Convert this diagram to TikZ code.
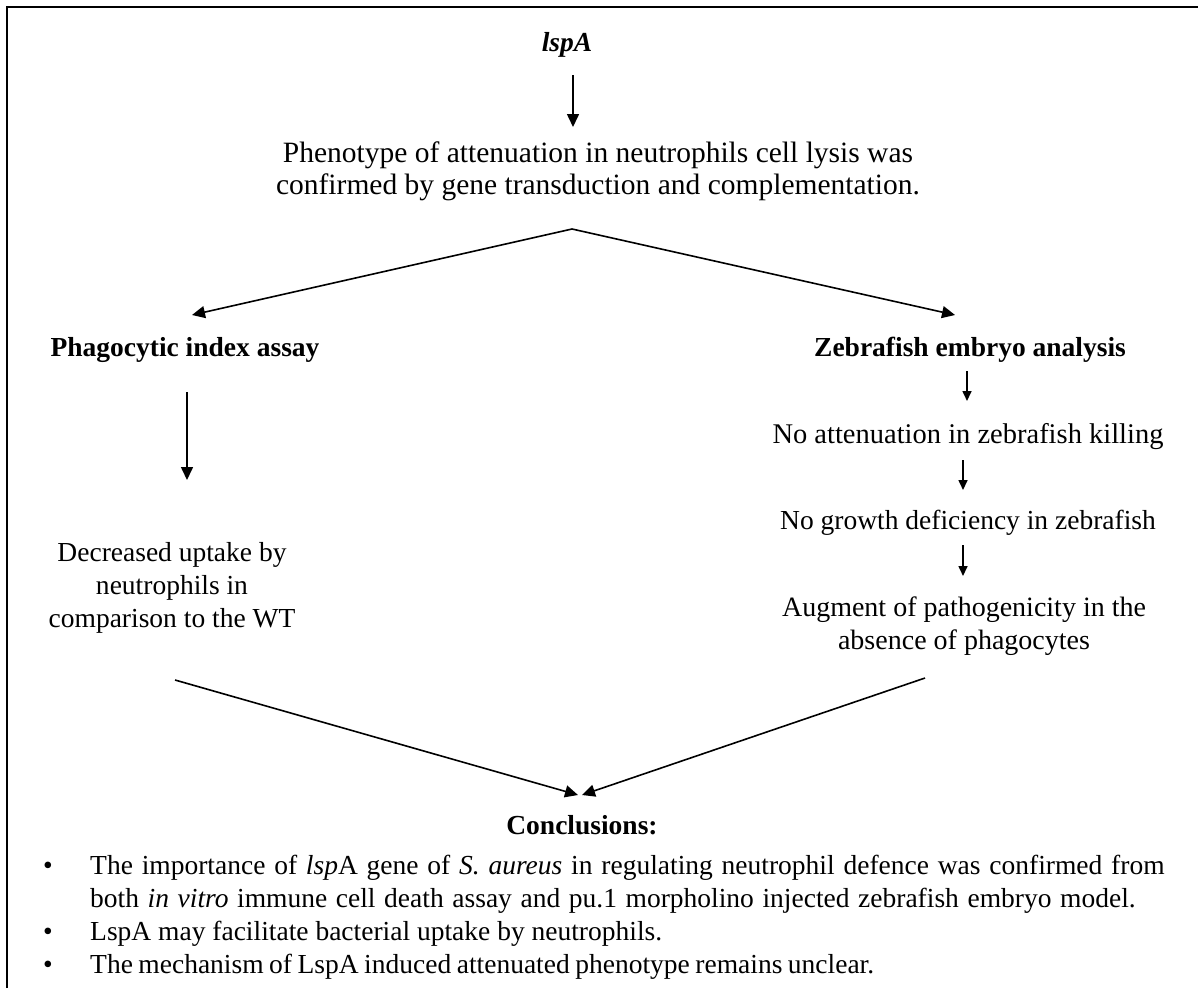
\documentclass[tikz,border=0pt]{standalone}
\usepackage{fontspec}
\setmainfont{Liberation Serif}
\usetikzlibrary{arrows.meta}
\begin{document}
\begin{tikzpicture}[x=1pt,y=-1pt,
  txt/.style={inner sep=0pt, align=center, font=\fontsize{27.5}{33}\selectfont},
  hd/.style={txt, font=\fontsize{27.5}{33}\selectfont\bfseries},
  bl/.style={inner sep=0pt, align=left, font=\fontsize{27.5}{33}\selectfont},
  arr/.style={line width=1.6pt, -{Triangle[length=13pt,width=12pt]}},
  sarr/.style={line width=1.6pt, -{Triangle[length=10pt,width=9pt]}},
  frame/.style={line width=2.4pt}]
\useasboundingbox (0,0) rectangle (1198,988);
% open frame: top and left edges
\draw[frame] (7,988) -- (7,7) -- (1198,7);

% top of the flow
\node[hd, font=\fontsize{27.5}{33}\selectfont\bfseries\itshape] (lsp) at (567,45) {lspA};
\node[txt, font=\fontsize{29.5}{32}\selectfont] (pheno) at (598,171) {Phenotype of attenuation in neutrophils cell lysis was\\confirmed by gene transduction and complementation.};
\coordinate (lspout) at (573,75);
\coordinate (phenoin) at (573,127);
\draw[arr] (lspout) -- (phenoin);

% split into the two analyses
\coordinate (apex) at (572,229);
\node[hd] (phago) at (185,350) {Phagocytic index assay};
\node[hd] (zebra) at (970,350) {Zebrafish embryo analysis};
\coordinate (phagoin) at (192,315);
\coordinate (zebrain) at (955,315);
\draw[arr] (apex) -- (phagoin);
\draw[arr] (apex) -- (zebrain);

% left branch
\node[txt] (uptake) at (172,588) {Decreased uptake by\\neutrophils in\\comparison to the WT};
\coordinate (phagoout) at (187,392);
\coordinate (uptakein) at (187,480);
\draw[arr] (phagoout) -- (uptakein);

% right branch
\node[txt, font=\fontsize{28.5}{33}\selectfont] (kill) at (968,437) {No attenuation in zebrafish killing};
\node[txt] (growth) at (968,523) {No growth deficiency in zebrafish};
\node[txt, font=\fontsize{28}{33}\selectfont] (augment) at (964,626) {Augment of pathogenicity in the\\absence of phagocytes};
\coordinate (z1) at (967,371); \coordinate (z2) at (967,401);
\coordinate (k1) at (963,460); \coordinate (k2) at (963,490);
\coordinate (g1) at (963,545); \coordinate (g2) at (963,576);
\draw[sarr] (z1) -- (z2);
\draw[sarr] (k1) -- (k2);
\draw[sarr] (g1) -- (g2);

% merge into the conclusions
\node[hd] (concl) at (582,825) {Conclusions:};
\coordinate (uptakeout) at (175,680);
\coordinate (augmentout) at (925,678);
\coordinate (conclinL) at (578,795);
\coordinate (conclinR) at (582,795);
\draw[arr] (uptakeout) -- (conclinL);
\draw[arr] (augmentout) -- (conclinR);

% bullet points
\node[bl] (b1) at (48,868) {•};
\node[bl] (b2) at (48,934) {•};
\node[bl] (b3) at (48,967) {•};
\node[bl, anchor=west] (t1) at (90,884) {\spaceskip=8.8pt plus 1pt The importance of \textit{lsp}A gene of \textit{S. aureus} in regulating neutrophil defence was confirmed from\\\spaceskip=8.6pt plus 1pt both \textit{in vitro} immune cell death assay and pu.1 morpholino injected zebrafish embryo model.};
\node[bl, anchor=west] (t2) at (90,934) {LspA may facilitate bacterial uptake by neutrophils.};
\node[bl, anchor=west] (t3) at (90,967) {\spaceskip=5.5pt plus 1pt The mechanism of LspA induced attenuated phenotype remains unclear.};
\end{tikzpicture}
\end{document}
